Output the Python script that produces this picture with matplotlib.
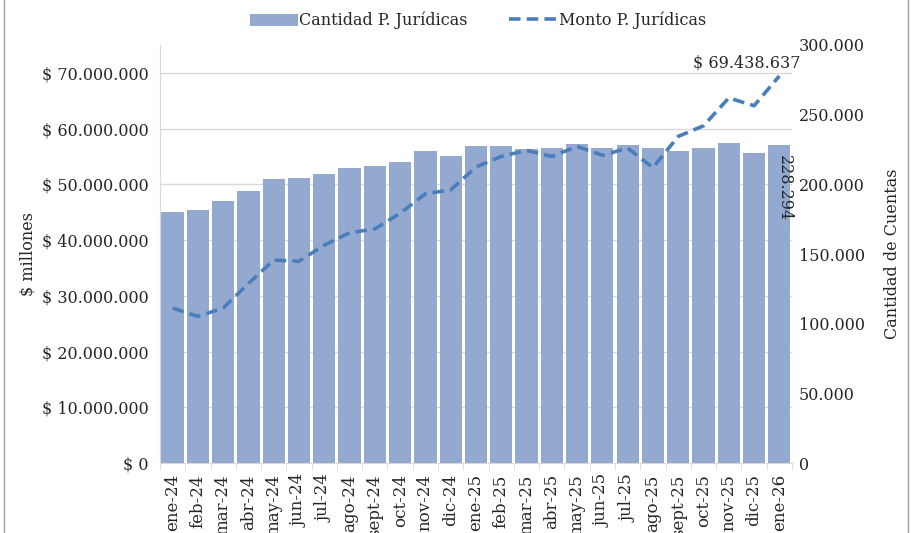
import matplotlib.pyplot as plt
from matplotlib.lines import Line2D
import numpy as np

plt.rcParams['font.family'] = ['DejaVu Serif']

# meses
meses = ['ene-24', 'feb-24', 'mar-24', 'abr-24', 'may-24', 'jun-24', 'jul-24',
         'ago-24', 'sept-24', 'oct-24', 'nov-24', 'dic-24', 'ene-25', 'feb-25',
         'mar-25', 'abr-25', 'may-25', 'jun-25', 'jul-25', 'ago-25', 'sept-25',
         'oct-25', 'nov-25', 'dic-25', 'ene-26']

# cantidad de cuentas (eje derecho)
cantidad = [180400, 181300, 188200, 195200, 203800, 204300, 207200, 211700,
            213400, 216200, 224100, 220300, 227600, 227300, 225400, 226100,
            228700, 225800, 228200, 226300, 224100, 226300, 229900, 222300,
            228294]

# monto en $ millones (eje izquierdo)
monto = [27.8e6, 26.3e6, 27.8e6, 32.2e6, 36.4e6, 36.2e6, 39.1e6, 41.3e6,
         42.0e6, 44.8e6, 48.3e6, 49.0e6, 53.1e6, 55.0e6, 56.1e6, 55.0e6,
         56.8e6, 55.2e6, 56.5e6, 53.0e6, 58.6e6, 60.5e6, 65.5e6, 64.1e6,
         69438637]

ticks_izq = [0, 10e6, 20e6, 30e6, 40e6, 50e6, 60e6, 70e6]
ticks_der = [0, 50000, 100000, 150000, 200000, 250000, 300000]
max_izq = 75e6
max_der = 300000

color_barra = '#94a9d0'
color_linea = '#4a7ebb'
color_texto = '#262626'
fs = 11.5


def miles(v):
    return f'{int(round(v)):,}'.replace(',', '.')


fig = plt.figure(figsize=(9.12, 5.33), dpi=100)
ax_b = fig.add_axes([0.1754, 0.1313, 0.6930, 0.7843])
ax_l = ax_b.twinx()

x = np.arange(len(meses))

# grilla del eje izquierdo, dibujada detras de las barras
for t in ticks_izq[1:]:
    ax_b.axhline(t / max_izq * max_der, color='#d9d9d9', lw=1, zorder=0)

ax_b.bar(x, cantidad, width=0.88, color=color_barra, zorder=2,
         label='Cantidad P. Jurídicas')
ax_b.set_ylim(0, max_der)
ax_b.set_xlim(-0.5, len(meses) - 0.5)
ax_b.yaxis.tick_right()
ax_b.set_yticks(ticks_der)
ax_b.set_yticklabels([miles(v) for v in ticks_der], fontsize=fs, color=color_texto)
ax_b.tick_params(axis='y', length=0, pad=5)

ax_b.set_xticks(x)
ax_b.set_xticklabels(meses, rotation=90, fontsize=fs + 0.5, color=color_texto)
ax_b.set_xticks(np.arange(len(meses) + 1) - 0.5, minor=True)
ax_b.tick_params(axis='x', which='major', length=0, pad=8)
ax_b.tick_params(axis='x', which='minor', length=5, color='#d9d9d9')

for s in ['top', 'right', 'left']:
    ax_b.spines[s].set_visible(False)
ax_b.spines['bottom'].set_color('#d9d9d9')

# etiqueta de la ultima barra
ax_b.text(x[-1] + 0.2, cantidad[-1] - 7000, miles(cantidad[-1]), rotation=-90,
          ha='center', va='top', fontsize=fs, color=color_texto, zorder=5)

ax_l.plot(x, monto, color=color_linea, lw=2.6, ls=(0, (3.2, 1.7)),
          label='Monto P. Jurídicas', zorder=3)
ax_l.set_ylim(0, max_izq)
ax_l.yaxis.tick_left()
ax_l.set_yticks(ticks_izq)
ax_l.set_yticklabels(['$ ' + miles(v) for v in ticks_izq], fontsize=fs, color=color_texto)
ax_l.tick_params(axis='y', length=0, pad=8)
for s in ['top', 'right', 'bottom']:
    ax_l.spines[s].set_visible(False)
ax_l.spines['left'].set_color('#d9d9d9')

fig.text(28 / 912, 1 - 254 / 533, '$ millones', rotation=90, ha='center',
         va='center', fontsize=fs, color=color_texto)
fig.text(893 / 912, 1 - 254 / 533, 'Cantidad de Cuentas', rotation=90,
         ha='center', va='center', fontsize=fs, color=color_texto)

ax_l.text(x[-1] + 0.85, monto[-1] + 0.8e6, '$ ' + miles(monto[-1]),
          ha='right', va='bottom', fontsize=fs, color=color_texto)

h1, l1 = ax_b.get_legend_handles_labels()
h2, l2 = ax_l.get_legend_handles_labels()
fig.legend(h1 + h2, l1 + l2, loc='upper center', bbox_to_anchor=(0.524, 1.005),
           ncol=2, frameon=False, fontsize=fs, handlelength=3.0,
           handleheight=0.8, columnspacing=2.6, handletextpad=0.1,
           labelcolor=color_texto)

# marco exterior
fig.add_artist(Line2D([0.004, 0.004], [0, 1], color='#a0a0a0', lw=1))
fig.add_artist(Line2D([0.996, 0.996], [0, 1], color='#a0a0a0', lw=1))

fig.savefig('out.png', dpi=100)
